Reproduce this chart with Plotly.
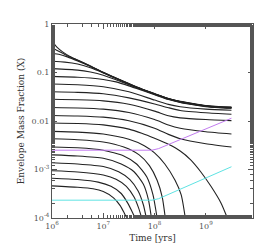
import plotly.graph_objects as go

# ---- data: each curve as (log10 time [yr], envelope mass fraction X) ----
main_logt = [6.5, 6.75, 7.0, 7.25, 7.5, 7.75, 8.0, 8.27, 8.5, 8.75, 9.0, 9.25, 9.5]

curve_logt = [
    [6.0, 6.05, 6.1, 6.2, 6.35] + main_logt,
    [6.0, 6.1, 6.25] + main_logt,
    [6.0, 6.15, 6.3] + main_logt,
    [6.0, 6.25] + main_logt,
    [6.0] + main_logt,
    [6.0] + main_logt,
    [6.0, 6.5, 7.0, 7.5, 8.0, 8.27, 8.5, 9.0, 9.5],
    [6.0, 6.5, 7.0, 7.5, 8.0, 8.27, 8.5, 9.0, 9.5],
    [6.0, 6.5, 7.0, 7.5, 8.0, 8.27, 8.5, 9.0, 9.5],
    [6.0, 6.5, 7.0, 7.5, 8.0, 8.27, 8.5, 9.0, 9.5],
    [6.0, 6.5, 7.0, 7.5, 8.0, 8.27, 8.5, 9.0, 9.5],
    [6.0, 6.5, 7.0, 7.5, 7.75, 8.0, 8.27, 8.5, 8.7, 8.9, 9.1, 9.3, 9.42],
    [6.0, 6.5, 7.0, 7.5, 7.8, 8.0, 8.2, 8.4, 8.52, 8.6],
    [6.0, 6.5, 7.0, 7.4, 7.7, 7.9, 8.05, 8.15, 8.21],
    [6.0, 6.5, 7.0, 7.4, 7.65, 7.85, 7.97, 8.05],
    [6.0, 6.5, 7.0, 7.35, 7.6, 7.78, 7.88, 7.94],
    [6.0, 6.5, 7.0, 7.3, 7.52, 7.68, 7.78, 7.84],
    [6.0, 6.5, 7.0, 7.25, 7.45, 7.6, 7.69, 7.75],
    [6.0, 6.5, 6.9, 7.15, 7.35, 7.48, 7.57, 7.62],
    [6.0, 6.5, 6.8, 7.0, 7.2, 7.33, 7.42, 7.46],
]
curve_x = [
    [0.45, 0.38, 0.33, 0.27, 0.215, 0.181, 0.136, 0.101, 0.077, 0.059, 0.0458, 0.0367, 0.0292, 0.0254, 0.0229, 0.0209, 0.0198, 0.0193],
    [0.32, 0.285, 0.235, 0.178, 0.135, 0.100, 0.0765, 0.0585, 0.0455, 0.0365, 0.0290, 0.0252, 0.0227, 0.0207, 0.0196, 0.0191],
    [0.25, 0.235, 0.21, 0.173, 0.133, 0.099, 0.076, 0.058, 0.0452, 0.0362, 0.0288, 0.0250, 0.0225, 0.0205, 0.0194, 0.0189],
    [0.17, 0.164, 0.150, 0.125, 0.098, 0.075, 0.0575, 0.0449, 0.0360, 0.0286, 0.0248, 0.0223, 0.0203, 0.0192, 0.0187],
    [0.12, 0.112, 0.102, 0.088, 0.071, 0.056, 0.0445, 0.0356, 0.0283, 0.0245, 0.0220, 0.0201, 0.0190, 0.0185],
    [0.083, 0.080, 0.077, 0.072, 0.064, 0.053, 0.043, 0.0348, 0.0278, 0.0241, 0.0217, 0.0198, 0.0188, 0.0183],
    [0.058, 0.056, 0.051, 0.040, 0.027, 0.022, 0.0197, 0.0176, 0.0166],
    [0.040, 0.039, 0.0365, 0.030, 0.0225, 0.0188, 0.0165, 0.0148, 0.0138],
    [0.028, 0.0274, 0.026, 0.0222, 0.016, 0.0128, 0.0116, 0.0107, 0.0102],
    [0.019, 0.0186, 0.0176, 0.015, 0.0107, 0.0083, 0.0071, 0.0060, 0.0054],
    [0.013, 0.0127, 0.012, 0.0101, 0.0071, 0.0053, 0.0043, 0.0034, 0.0029],
    [0.0091, 0.0089, 0.0083, 0.0068, 0.0056, 0.0044, 0.0033, 0.0024, 0.0016, 0.0009, 0.00045, 0.0002, 0.0001],
    [0.0061, 0.0059, 0.0054, 0.0042, 0.0031, 0.0022, 0.0013, 0.0006, 0.0003, 0.0001],
    [0.0043, 0.0041, 0.0037, 0.0029, 0.0020, 0.0012, 0.0006, 0.00027, 0.0001],
    [0.0029, 0.0028, 0.0025, 0.0019, 0.0013, 0.0007, 0.0003, 0.0001],
    [0.0020, 0.0019, 0.0017, 0.0013, 0.0009, 0.0005, 0.00024, 0.0001],
    [0.00138, 0.0013, 0.00115, 0.0009, 0.00062, 0.00036, 0.00019, 0.0001],
    [0.00094, 0.00089, 0.00077, 0.00063, 0.00045, 0.00027, 0.00016, 0.0001],
    [0.00066, 0.00062, 0.00055, 0.00045, 0.00032, 0.0002, 0.00013, 0.0001],
    [0.00046, 0.00043, 0.0004, 0.00035, 0.00026, 0.00018, 0.00012, 0.0001],
]

# radius contours
r2_logt = [6.0, 7.95, 8.08, 9.5]
r2_x = [0.0025, 0.0025, 0.0027, 0.0114]
r15_logt = [6.0, 7.95, 8.08, 9.5]
r15_x = [0.000233, 0.000233, 0.00025, 0.00114]
r_labels = ["2 R<sub>⊕</sub>", "1.5 R<sub>⊕</sub>"]

x_tickvals = [1e6, 1e7, 1e8, 1e9]
x_ticktext = ["10<sup>6</sup>", "10<sup>7</sup>", "10<sup>8</sup>", "10<sup>9</sup>"]
y_tickvals = [1e-4, 1e-3, 1e-2, 1e-1, 1]
y_ticktext = ["10<sup>-4</sup>", "10<sup>-3</sup>", "0.01", "0.1", "1"]

PURPLE = "#c27cf0"
CYAN = "#5fe3e3"
FONT = "DejaVu Serif"

fig = go.Figure()
for lt, xv in zip(curve_logt, curve_x):
    fig.add_trace(go.Scatter(x=[10 ** v for v in lt], y=xv, mode="lines",
                             line=dict(color="#222222", width=1.1, shape="spline", smoothing=0.6),
                             hoverinfo="skip", showlegend=False))
fig.add_trace(go.Scatter(x=[10 ** v for v in r2_logt], y=r2_x, mode="lines",
                         line=dict(color=PURPLE, width=1), showlegend=False))
fig.add_trace(go.Scatter(x=[10 ** v for v in r15_logt], y=r15_x, mode="lines",
                         line=dict(color=CYAN, width=1), showlegend=False))
fig.add_annotation(x=9.5, y=r2_x[-1], xref="x", yref="y", text=r_labels[0], showarrow=False,
                   xanchor="left", xshift=2, yshift=1, font=dict(color=PURPLE, size=7, family=FONT))
fig.add_annotation(x=9.5, y=r15_x[-1], xref="x", yref="y", text=r_labels[1], showarrow=False,
                   xanchor="left", xshift=0, yshift=12, font=dict(color=CYAN, size=7, family=FONT))

axis_common = dict(showline=True, linecolor="#555555", linewidth=1, mirror="allticks",
                   ticks="inside", ticklen=5, tickcolor="#555555", showgrid=False, zeroline=False,
                   tickfont=dict(family=FONT, size=8, color="#555555"),
                   minor=dict(ticks="inside", ticklen=3, tickcolor="#555555", showgrid=False))
fig.update_xaxes(type="log", range=[6, 9.92], tickmode="array", tickvals=x_tickvals,
                 ticktext=x_ticktext, title=dict(text="Time [yrs]", standoff=5,
                 font=dict(family=FONT, size=9, color="#333333")), **axis_common)
fig.update_yaxes(type="log", range=[-4, 0], tickmode="array", tickvals=y_tickvals,
                 ticktext=y_ticktext, title=dict(text="Envelope Mass Fraction (X)", standoff=5,
                 font=dict(family=FONT, size=9, color="#333333")), **axis_common)
fig.update_layout(width=269, height=246, margin=dict(l=44, r=24, t=13, b=30),
                  plot_bgcolor="white", paper_bgcolor="white")
fig.write_html("out.html")
